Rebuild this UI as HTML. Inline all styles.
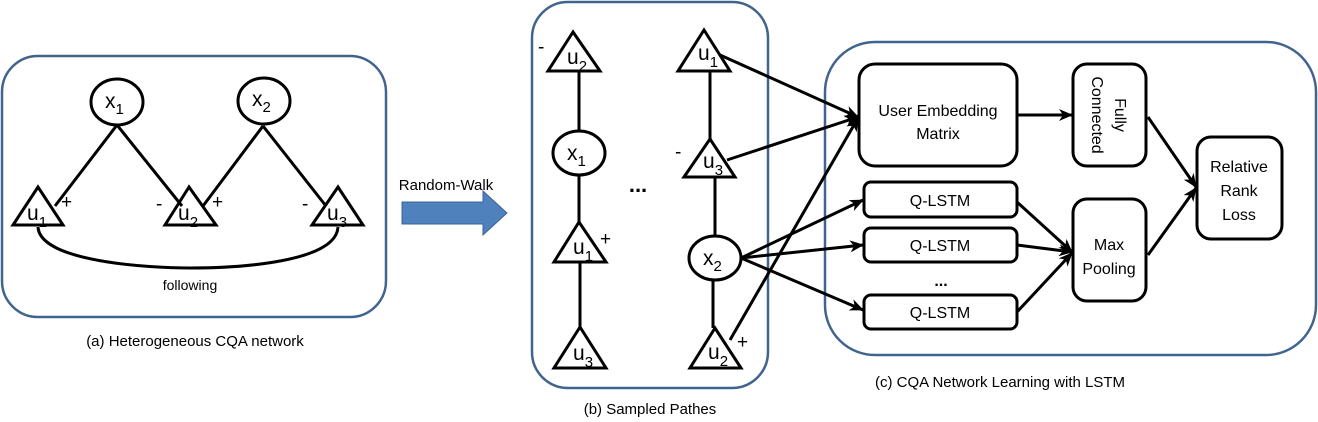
<!DOCTYPE html>
<html><head><meta charset="utf-8"><style>
body{margin:0;background:#fff}
svg{display:block}
text{font-family:"Liberation Sans",sans-serif;fill:#000}
</style></head><body>
<svg width="1318" height="422" viewBox="0 0 1318 422" xmlns="http://www.w3.org/2000/svg">
<defs>
<marker id="ar" markerWidth="14" markerHeight="14" refX="13" refY="7" orient="auto" markerUnits="userSpaceOnUse">
<path d="M0,1 L14,7 L0,13 L4,7 z" fill="#000"/>
</marker>
</defs>
<g fill="none" stroke="#41648f" stroke-width="2.5">
<rect x="2" y="56" width="384" height="261" rx="36"/>
<rect x="532" y="2" width="236" height="386" rx="36"/>
<rect x="825" y="42" width="491" height="313" rx="50"/>
</g>
<!-- Panel a -->
<g stroke="#000" stroke-width="3" fill="none">
<line x1="117" y1="125" x2="55" y2="206"/>
<line x1="117" y1="125" x2="182" y2="206"/>
<line x1="263" y1="126" x2="203" y2="206"/>
<line x1="263" y1="126" x2="326" y2="206"/>
<path d="M38,227 C40,262 150,268 190,268 C240,268 336,262 338,227"/>
</g>
<g stroke="#000" stroke-width="3" fill="#fff">
<ellipse cx="117" cy="102" rx="26" ry="23"/>
<ellipse cx="264" cy="101" rx="26" ry="23"/>
<polygon points="38,187 13,225 63,225" fill="none"/>
<polygon points="189,187 165,225 216,225" fill="none"/>
<polygon points="338,187 312,225 363,225" fill="none"/>
</g>
<g font-size="21">
<text x="105" y="108">x<tspan font-size="15" dy="6">1</tspan></text>
<text x="252" y="106">x<tspan font-size="15" dy="6">2</tspan></text>
<text x="27" y="220">u<tspan font-size="15" dy="7">1</tspan></text>
<text x="178" y="220">u<tspan font-size="15" dy="7">2</tspan></text>
<text x="327" y="220">u<tspan font-size="15" dy="7">3</tspan></text>
<text x="61" y="208" font-size="19">+</text>
<text x="156" y="210" font-size="19">-</text>
<text x="212" y="208" font-size="19">+</text>
<text x="302" y="210" font-size="19">-</text>
</g>
<text x="190" y="290" font-size="14" text-anchor="middle">following</text>
<text x="195" y="346" font-size="15" text-anchor="middle">(a) Heterogeneous CQA network</text>
<!-- arrow -->
<text x="446" y="190" font-size="15" text-anchor="middle">Random-Walk</text>
<polygon points="402,202 483,202 483,191 507,213 483,235 483,224 402,224" fill="#4f81bd" stroke="#3a6595" stroke-width="1"/>
<!-- Panel b -->
<g stroke="#000" stroke-width="3" fill="none">
<line x1="579" y1="71" x2="579" y2="131"/>
<line x1="579" y1="174" x2="579" y2="222"/>
<line x1="580" y1="262" x2="580" y2="327"/>
<line x1="710" y1="71" x2="710" y2="139"/>
<line x1="715" y1="177" x2="715" y2="236"/>
<line x1="713" y1="280" x2="713" y2="328"/>
</g>
<g stroke="#000" stroke-width="3" fill="none">
<polygon points="573,32 548,71 600,71"/>
<polygon points="579,222 554,262 606,262"/>
<polygon points="580,327 554,368 606,368"/>
<polygon points="704,30 678,71 730,71"/>
<polygon points="710,139 684,177 735,177"/>
<polygon points="715,328 690,368 741,368"/>
</g>
<g stroke="#000" stroke-width="3" fill="#fff">
<ellipse cx="579" cy="153" rx="26" ry="22"/>
<ellipse cx="715" cy="258" rx="26" ry="22"/>
</g>
<g font-size="21">
<text x="567" y="64">u<tspan font-size="15" dy="7">2</tspan></text>
<text x="567" y="160">x<tspan font-size="15" dy="6">1</tspan></text>
<text x="573" y="254">u<tspan font-size="15" dy="7">1</tspan></text>
<text x="573" y="360">u<tspan font-size="15" dy="7">3</tspan></text>
<text x="698" y="60">u<tspan font-size="15" dy="7">1</tspan></text>
<text x="703" y="168">u<tspan font-size="15" dy="7">3</tspan></text>
<text x="703" y="265">x<tspan font-size="15" dy="6">2</tspan></text>
<text x="708" y="359">u<tspan font-size="15" dy="7">2</tspan></text>
<text x="538" y="53" font-size="19">-</text>
<text x="675" y="158" font-size="19">-</text>
<text x="600" y="245" font-size="19">+</text>
<text x="737" y="348" font-size="19">+</text>
</g>
<text x="638" y="192" font-size="22" font-weight="bold" text-anchor="middle">...</text>
<text x="650" y="414" font-size="15" text-anchor="middle">(b) Sampled Pathes</text>
<!-- Panel c boxes -->
<g stroke="#000" stroke-width="3" fill="#fff">
<rect x="859" y="64" width="158" height="102" rx="16"/>
<rect x="1073" y="64" width="73" height="102" rx="14"/>
<rect x="1197" y="137" width="85" height="102" rx="14"/>
<rect x="1073" y="199" width="73" height="102" rx="14"/>
<rect x="864" y="182" width="153" height="35" rx="7"/>
<rect x="864" y="228" width="153" height="34" rx="7"/>
<rect x="864" y="295" width="153" height="34" rx="7"/>
</g>
<g font-size="16" text-anchor="middle">
<text x="938" y="116">User Embedding</text>
<text x="938" y="139">Matrix</text>
<text x="1239" y="172">Relative</text>
<text x="1239" y="196">Rank</text>
<text x="1239" y="220">Loss</text>
<text x="1109" y="250">Max</text>
<text x="1109" y="274">Pooling</text>
<text x="940" y="206">Q-LSTM</text>
<text x="940" y="251">Q-LSTM</text>
<text x="940" y="318">Q-LSTM</text>
<text x="941" y="286" font-weight="bold">...</text>
<g transform="translate(1109,115) rotate(90)">
<text x="0" y="-6">Fully</text>
<text x="0" y="17">Connected</text>
</g>
</g>
<text x="1000" y="387" font-size="15" text-anchor="middle">(c)  CQA Network Learning with LSTM</text>
<!-- arrows -->
<g stroke="#000" stroke-width="3" fill="none" marker-end="url(#ar)">
<line x1="720" y1="55" x2="858" y2="117"/>
<line x1="727" y1="160" x2="858" y2="117"/>
<line x1="730" y1="340" x2="858" y2="118"/>
<line x1="741" y1="258" x2="863" y2="200"/>
<line x1="741" y1="258" x2="863" y2="245"/>
<line x1="741" y1="258" x2="863" y2="310"/>
<line x1="1017" y1="115" x2="1072" y2="115"/>
<line x1="1017" y1="202" x2="1072" y2="252"/>
<line x1="1017" y1="245" x2="1072" y2="252"/>
<line x1="1017" y1="312" x2="1072" y2="253"/>
<line x1="1148" y1="117" x2="1196" y2="187"/>
<line x1="1148" y1="255" x2="1196" y2="188"/>
</g>
</svg>
</body></html>
